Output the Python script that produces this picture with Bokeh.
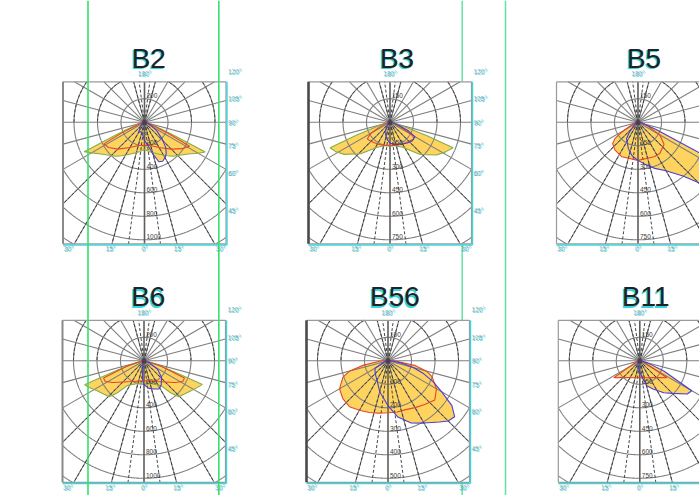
import numpy as np
from bokeh.plotting import figure
from bokeh.models import Range1d
from bokeh.embed import file_html
from bokeh.resources import INLINE
from bokeh.core.properties import value

# ---------------- data ----------------
panel_titles = ["B2", "B3", "B5", "B6", "B56", "B11"]
ring_steps = [200, 150, 150, 200, 100, 150]          # cd per ring
right_angle_values = [120, 105, 90, 75, 60, 45]
right_angle_labels = ["120°", "105°", "90°", "75°", "60°", "45°"]
bottom_angle_values = [-30, -15, 0, 15, 30]
bottom_angle_labels = ["30°", "15°", "0°", "15°", "30°"]
top_angle_label = "180°"

# luminous intensity curves: gamma (deg from nadir) and intensity (cd)
b2_outer_gamma = [-90, -80, -75, -70, -68, -66, -64, -60, -54, -47, -40, -34, -25, -11, 0, 11, 25, 34, 40, 47, 54, 60, 64, 66, 68, 70, 75, 80, 90]
b2_outer_cd = [9, 26, 51, 102, 153, 272, 570, 520, 458, 412, 378, 344, 300, 257, 232, 257, 300, 344, 378, 412, 458, 528, 575, 281, 153, 102, 51, 26, 9]
b2_red_gamma = [-90, -75, -68, -65, -62, -55, -45, -30, -15, 0, 15, 30, 45, 55, 62, 65, 68, 75, 90]
b2_red_cd = [9, 34, 85, 213, 391, 374, 323, 247, 204, 196, 204, 247, 323, 391, 434, 221, 85, 34, 9]
b2_blue_gamma = [-90, -60, -40, -30, -20, -10, 0, 10, 15, 20, 25, 30, 35, 40, 47, 55, 65, 75, 90]
b2_blue_cd = [0, 26, 60, 94, 85, 102, 153, 213, 281, 357, 366, 349, 323, 281, 204, 128, 60, 26, 0]

b3_outer_gamma = [-90, -80, -74, -71, -69, -67, -62, -55, -43, -27, -12, 0, 12, 27, 43, 55, 62, 68, 70, 72, 75, 80, 90]
b3_outer_cd = [6, 26, 64, 115, 223, 415, 396, 357, 274, 179, 153, 147, 153, 179, 281, 364, 402, 434, 255, 128, 64, 26, 6]
b3_red_gamma = [-90, -75, -65, -60, -54, -45, -30, -15, 0, 15, 30, 45, 55, 60, 65, 75, 90]
b3_red_cd = [6, 32, 77, 140, 179, 172, 160, 153, 147, 153, 160, 172, 185, 166, 89, 32, 6]
b3_blue_gamma = [-90, -45, -30, -20, -10, 0, 10, 20, 30, 40, 50, 60, 65, 70, 80, 90]
b3_blue_cd = [6, 26, 51, 83, 109, 134, 140, 147, 160, 172, 185, 185, 128, 64, 19, 6]

b5_red_gamma = [-90, -70, -62, -58, -55, -50, -40, -25, 0, 25, 35, 50, 60, 70, 90]
b5_red_cd = [6, 38, 77, 128, 179, 211, 230, 243, 243, 243, 243, 217, 160, 64, 6]
b5_blue_gamma = [-90, -60, -50, -40, -35, -20, -10, 0, 10, 20, 30, 40, 45, 50, 55, 60, 63, 68, 72, 80, 90]
b5_blue_cd = [6, 19, 38, 89, 128, 179, 217, 243, 274, 313, 357, 447, 543, 638, 689, 664, 606, 128, 64, 26, 6]

b6_outer_gamma = [-90, -80, -76, -72, -70, -68, -64, -58, -50, -44, -40, -34, -25, -12, 0, 12, 25, 34, 40, 44, 50, 58, 64, 68, 70, 72, 76, 80, 90]
b6_outer_cd = [9, 34, 68, 153, 281, 545, 519, 477, 443, 426, 357, 255, 221, 196, 187, 196, 221, 255, 357, 426, 443, 477, 511, 536, 272, 153, 68, 34, 9]
b6_red_gamma = [-90, -76, -72, -67, -62, -55, -45, -30, -15, 0, 15, 30, 45, 55, 62, 67, 72, 76, 90]
b6_red_cd = [9, 43, 153, 374, 374, 323, 255, 204, 179, 170, 179, 204, 255, 323, 374, 374, 153, 43, 9]
b6_blue_gamma = [-90, -40, -20, -10, -5, 0, 10, 20, 28, 35, 47, 58, 70, 90]
b6_blue_cd = [9, 17, 34, 68, 153, 204, 238, 255, 272, 255, 204, 136, 51, 9]

b56_red_gamma = [-90, -80, -75, -70, -60, -50, -40, -30, -20, -10, 0, 10, 20, 30, 40, 50, 60, 70, 75, 80, 90]
b56_red_cd = [26, 106, 170, 204, 238, 251, 255, 243, 234, 226, 221, 221, 221, 230, 243, 260, 238, 200, 170, 119, 26]
b56_blue_gamma = [-90, -60, -45, -30, -15, 0, 10, 20, 30, 40, 45, 50, 55, 60, 65, 70, 75, 80, 90]
b56_blue_cd = [9, 64, 77, 94, 136, 191, 243, 281, 306, 340, 362, 370, 332, 264, 213, 162, 111, 64, 13]

b11_red_gamma = [-90, -75, -65, -60, -57, -50, -40, -30, -20, 0, 20, 30, 40, 50, 58, 61, 66, 75, 90]
b11_red_cd = [6, 19, 38, 77, 198, 166, 140, 124, 115, 109, 115, 124, 140, 166, 204, 89, 45, 19, 6]
b11_blue_gamma = [-90, -40, -20, -10, 0, 10, 16, 25, 37, 45, 55, 60, 67, 75, 90]
b11_blue_cd = [6, 19, 38, 51, 70, 115, 166, 198, 255, 294, 370, 383, 166, 51, 6]

OUTER_C, RED_C, BLUE_C = "#86ad45", "#e5462c", "#4b3fd4"
panel_curves = [
    [(b2_outer_gamma, b2_outer_cd, OUTER_C), (b2_red_gamma, b2_red_cd, RED_C), (b2_blue_gamma, b2_blue_cd, BLUE_C)],
    [(b3_outer_gamma, b3_outer_cd, OUTER_C), (b3_red_gamma, b3_red_cd, RED_C), (b3_blue_gamma, b3_blue_cd, BLUE_C)],
    [(b5_red_gamma, b5_red_cd, RED_C), (b5_blue_gamma, b5_blue_cd, BLUE_C)],
    [(b6_outer_gamma, b6_outer_cd, OUTER_C), (b6_red_gamma, b6_red_cd, RED_C), (b6_blue_gamma, b6_blue_cd, BLUE_C)],
    [(b56_red_gamma, b56_red_cd, RED_C), (b56_blue_gamma, b56_blue_cd, BLUE_C)],
    [(b11_red_gamma, b11_red_cd, RED_C), (b11_blue_gamma, b11_blue_cd, BLUE_C)],
]

# ---------------- layout (page pixel geometry) ----------------
W, H = 699, 495
panel_cx = [144.0, 389.5, 637.5, 143.5, 387.5, 639.3]
panel_cy = [121.8, 121.8, 121.8, 360.3, 360.3, 360.3]
panel_col = [0, 1, 2, 0, 1, 2]
title_dx = [4.3, 7.0, 6.0]
HALF_W, UP, DOWN, RING_PX = 81.5, 40.5, 121.5, 23.5
FONT = value("Liberation Sans")

p = figure(width=W, height=H, x_range=Range1d(0, W), y_range=Range1d(H, 0),
           output_backend="svg", toolbar_location=None, min_border=0,
           x_axis_location=None, y_axis_location=None)
p.grid.visible = False
p.outline_line_color = None
p.background_fill_color = "white"
p.border_fill_color = "white"


def clip_polyline(xs, ys, L, R, T, B):
    inside = (xs >= L) & (xs <= R) & (ys >= T) & (ys <= B)
    sx, sy, cx_, cy_ = [], [], [], []
    for xi, yi, ok in zip(xs, ys, inside):
        if ok:
            cx_.append(xi); cy_.append(yi)
        else:
            if len(cx_) > 1:
                sx.append(cx_); sy.append(cy_)
            cx_, cy_ = [], []
    if len(cx_) > 1:
        sx.append(cx_); sy.append(cy_)
    return sx, sy


def ray_end(cx, cy, g, L, R, T, B):
    dx, dy = np.sin(np.radians(g)), np.cos(np.radians(g))
    ts = []
    if dx > 1e-9: ts.append((R - cx) / dx)
    if dx < -1e-9: ts.append((L - cx) / dx)
    if dy > 1e-9: ts.append((B - cy) / dy)
    if dy < -1e-9: ts.append((T - cy) / dy)
    t = min(ts)
    return cx + t * dx, cy + t * dy


def visible_texts(xs, ys, texts, half_width):
    keep = [i for i, x in enumerate(xs) if x + half_width <= W - 1]
    return [xs[i] for i in keep], [ys[i] for i in keep], [texts[i] for i in keep]


# green page guide behind the middle column
p.segment(x0=[461.7], y0=[0], x1=[461.7], y1=[H], line_color="#62e3a3", line_width=1.5)

for i in range(6):
    cx, cy = panel_cx[i], panel_cy[i]
    L, R, T, B = cx - HALF_W, cx + HALF_W, cy - UP, cy + DOWN
    k = RING_PX / ring_steps[i]
    col = panel_col[i]

    p.quad(left=[L], right=[R], top=[T], bottom=[B], fill_color="white", line_color=None)

    # fills
    for g, cd, c in panel_curves[i]:
        gr = np.radians(np.array(g, float))
        r = np.array(cd, float) * k
        p.patch(cx + r * np.sin(gr), cy + r * np.cos(gr), fill_color="#ffd45e", line_color=None)

    # rings
    gam = np.linspace(-180, 180, 1441)
    gx, gy = [], []
    for n in range(1, 7):
        xs = cx + n * RING_PX * np.sin(np.radians(gam))
        ys = cy + n * RING_PX * np.cos(np.radians(gam))
        sx, sy = clip_polyline(xs, ys, L, R, T, B)
        gx += sx; gy += sy
    p.multi_line(gx, gy, line_color="#7e7e7e", line_width=1.1)
    gamu = np.linspace(90, 270, 721)
    dxs, dys = [], []
    for n in (2, 3):
        xs = cx + n * RING_PX * np.sin(np.radians(gamu))
        ys = cy + n * RING_PX * np.cos(np.radians(gamu))
        sx, sy = clip_polyline(xs, ys, L, R, T, B)
        dxs += sx; dys += sy
    p.multi_line(dxs, dys, line_color="#2e2e2e", line_width=1, line_dash="3 2")

    # radials
    rx0, ry0, rx1, ry1 = [], [], [], []
    for g in range(-165, 181, 15):
        if g in (0, 180, 90, -90):
            continue
        ex, ey = ray_end(cx, cy, g, L, R, T, B)
        rx0.append(cx); ry0.append(cy); rx1.append(ex); ry1.append(ey)
    p.segment(rx0, ry0, rx1, ry1, line_color="#7e7e7e", line_width=1.1)
    dx0, dy0, dx1, dy1 = [], [], [], []
    for g in (-45, -30, -15, -7.5, 7.5, 15, 30, 45, 165, 172.5, 187.5, 195):
        ex, ey = ray_end(cx, cy, g, L, R, T, B)
        dx0.append(cx); dy0.append(cy); dx1.append(ex); dy1.append(ey)
    p.segment(dx0, dy0, dx1, dy1, line_color="#333333", line_width=1, line_dash="3 2", line_alpha=0.9)
    p.segment([L], [cy], [R], [cy], line_color="#7e7e7e", line_width=1.1)
    p.segment([cx], [T], [cx], [B], line_color="#5e5e5e", line_width=1.6)

    # outlines
    for g, cd, c in panel_curves[i]:
        gr = np.radians(np.array(g, float))
        r = np.array(cd, float) * k
        xs = list(cx + r * np.sin(gr)); ys = list(cy + r * np.cos(gr))
        xs.append(xs[0]); ys.append(ys[0])
        p.line(xs, ys, line_color=c, line_width=1.1)
    p.scatter([cx], [cy], size=5, marker="circle", fill_color="#4a3a4a", line_color=None, fill_alpha=0.8)

    # frame
    p.segment([L, L, R], [T, B, T], [R, R, R], [T, B, B], line_color="#9a9a9a", line_width=1.2)
    left_col = ["#8a8a8a", "#4a4a4a", "#9a9a9a"][col]
    left_w = [2.0, 2.6, 1.2][col]
    p.segment([L], [T], [L], [B], line_color=left_col, line_width=left_w)
    p.segment([L, R + 1], [B + 1.2, T], [R + 1, R + 1], [B + 1.2, B + 1.2], line_color="#3fd4dc", line_width=1.4)

    # ring labels
    tx, ty, tt = [cx + 2], [cy - RING_PX - 0.5], [str(ring_steps[i])]
    for n in range(1, 6):
        tx.append(cx + 2); ty.append(cy + n * RING_PX - 0.5); tt.append(str(n * ring_steps[i]))
    p.text(tx, ty, text=tt, text_font=FONT, text_font_size="6.5px", text_color="#3c3c3c",
           text_baseline="bottom", text_align="left")

    # angle labels
    ax = [R + 2.0] * len(right_angle_values)
    ay = [cy + 88.0 / np.tan(np.radians(a)) for a in right_angle_values]
    bx = [cx + (-76 if a == -30 else 76 if a == 30 else 34 * np.sign(a)) for a in bottom_angle_values]
    by = [B + 5.0] * len(bottom_angle_values)
    rax, ray_, rat = visible_texts([x + 7 for x in ax], ay, right_angle_labels, 7)
    rax = [x - 7 for x in rax]
    bbx, bby, bbt = visible_texts(bx, by, bottom_angle_labels, 6)
    for off, colr in ((0.8, "#2fd0dc"), (0.0, "#4a6e78")):
        alpha = 0.9 if off else 0.55
        if rax:
            p.text([x + off for x in rax], [y + off for y in ray_], text=rat, text_font=FONT,
                   text_font_size="6.5px", text_color=colr, text_baseline="middle", text_align="left",
                   text_alpha=alpha)
        p.text([x + off for x in bbx], [y + off for y in bby], text=bbt, text_font=FONT,
               text_font_size="6.5px", text_color=colr, text_baseline="middle", text_align="center",
               text_alpha=alpha)
        p.text([cx + off], [T - 8 + off], text=[top_angle_label], text_font=FONT,
               text_font_size="6.5px", text_color=colr, text_baseline="middle", text_align="center",
               text_alpha=alpha)

    # title
    tx0 = cx + title_dx[col]
    p.text([tx0 - 1.5], [T - 22.0], text=[panel_titles[i]], text_font=FONT, text_font_size="28px",
           text_color="#31d6e2", text_baseline="alphabetic", text_align="center")
    p.text([tx0], [T - 23.5], text=[panel_titles[i]], text_font=FONT, text_font_size="28px",
           text_color="#222222", text_baseline="alphabetic", text_align="center")

# green page guides on top
p.segment(x0=[87.5, 218.3], y0=[0, 0], x1=[87.5, 218.3], y1=[H, H], line_color="#34e06e", line_width=1.6)
p.segment(x0=[505.0], y0=[0], x1=[505.0], y1=[H], line_color="#62e3a3", line_width=1.5)

open("out.html", "w").write(file_html(p, INLINE))
